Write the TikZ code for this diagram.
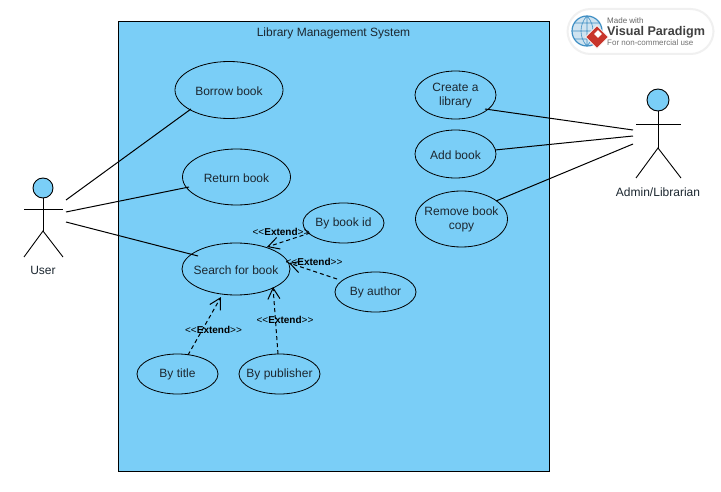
\documentclass[tikz,border=0pt]{standalone}
\usepackage{fontspec}
\setmainfont{Liberation Sans}
\usetikzlibrary{shapes.geometric,arrows.meta}
\definecolor{sysblue}{HTML}{7ACEF7}
\definecolor{txt}{HTML}{1C2730}
\definecolor{globe}{HTML}{3F8FC4}
\definecolor{vpred}{HTML}{C8352B}
\tikzset{
  uc/.style={ellipse,draw=black,line width=.8pt,inner sep=0pt,outer sep=0pt},
  narrowuc/.style={uc,minimum width=81pt,minimum height=40pt},
  lab/.style={font=\fontsize{12}{14}\selectfont,text=txt,align=center,inner sep=0pt,yshift=-.8pt},
  lowlab/.style={lab,yshift=-.6pt},
  assoc/.style={draw=black,line width=1pt},
  ext/.style={draw=black,line width=1pt,dash pattern=on 4pt off 3pt,-{Straight Barb[length=11pt,width=12pt,line width=1pt]}},
  extlab/.style={font=\fontsize{10}{12}\selectfont,text=black,inner sep=0pt},
  actor/.style={draw=black,line width=.9pt},
  head/.style={circle,draw=black,fill=sysblue,line width=.9pt,inner sep=0pt,outer sep=0pt},
  system/.style={draw=black,fill=sysblue,line width=.8pt,inner sep=0pt,outer sep=0pt}
}
\newcommand{\extlabel}{<{}<\textbf{Extend}>{}>}
\begin{document}
\begin{tikzpicture}[x=1pt,y=-1pt]
\useasboundingbox (0,0) rectangle (721,492);
\fill[white] (0,0) rectangle (721,492);

% system
\node[system,minimum width=431pt,minimum height=450pt] (sys) at (333.5,246) {};
\node[lab] (systitle) at (333.5,33) {Library Management System};

% use cases
\node[uc,minimum width=108pt,minimum height=57pt,label={[lab]center:Borrow book}] (borrow) at (229,90) {};
\node[uc,minimum width=108pt,minimum height=56pt,label={[lab]center:Return book}] (return) at (236.5,177) {};
\node[uc,minimum width=108pt,minimum height=52pt,label={[lab]center:Search for book}] (search) at (236,269) {};
\node[narrowuc,label={[lab]center:By book id}] (bookid) at (343.5,223) {};
\node[narrowuc,label={[lab]center:By author}] (author) at (375.5,292) {};
\node[narrowuc,label={[lab]center:By title}] (title) at (177.5,374) {};
\node[narrowuc,label={[lab]center:By publisher}] (publisher) at (279.5,374) {};
\node[uc,minimum width=81pt,minimum height=48pt,label={[lab]center:Create a\\library}] (create) at (455.5,95) {};
\node[uc,minimum width=81pt,minimum height=48pt,label={[lab]center:Add book}] (add) at (455.5,154) {};
\node[uc,minimum width=92pt,minimum height=56pt,label={[lab]center:Remove book\\copy}] (remove) at (461.5,219) {};

% user actor
\node[head,minimum size=20pt] (userhead) at (43,188) {};
\coordinate (userhip) at (43,231);
\coordinate (userarml) at (24,209);
\coordinate (userarmr) at (63,209);
\coordinate (userlegl) at (24,257);
\coordinate (userlegr) at (63,257);
\draw[actor] (userhead.south) -- (userhip);
\draw[actor] (userarml) -- (userarmr);
\draw[actor] (userlegl) -- (userhip) -- (userlegr);
\node[lab] (userlab) at (43,270) {User};

% admin actor
\node[head,minimum size=22pt] (adminhead) at (658,100) {};
\coordinate (adminhip) at (658,148);
\coordinate (adminarml) at (636,124);
\coordinate (adminarmr) at (681,124);
\coordinate (adminlegl) at (636,178);
\coordinate (adminlegr) at (681,178);
\draw[actor] (adminhead.south) -- (adminhip);
\draw[actor] (adminarml) -- (adminarmr);
\draw[actor] (adminlegl) -- (adminhip) -- (adminlegr);
\node[lab] (adminlab) at (658,191.5) {Admin/Librarian};

% associations
\coordinate (u1) at (66,200);
\coordinate (u2) at (66,212);
\coordinate (u3) at (66,222);
\coordinate (a1) at (633,130);
\coordinate (a2) at (633,136);
\coordinate (a3) at (633,144);
\coordinate (borrowend) at (191,109);
\coordinate (returnend) at (189,187);
\coordinate (searchend) at (198,256);
\coordinate (createend) at (485,109);
\coordinate (addend) at (495,150);
\coordinate (removeend) at (496,201);
\draw[assoc] (u1) -- (borrowend);
\draw[assoc] (u2) -- (returnend);
\draw[assoc] (u3) -- (searchend);
\draw[assoc] (a1) -- (createend);
\draw[assoc] (a2) -- (addend);
\draw[assoc] (a3) -- (removeend);

% extends
\coordinate (idstart) at (310,233);
\coordinate (idtip) at (267,247);
\coordinate (authstart) at (337,279);
\coordinate (authtip) at (289,263);
\coordinate (titlestart) at (188,355);
\coordinate (titletip) at (221,297);
\coordinate (pubstart) at (278,354);
\coordinate (pubtip) at (273,287);
\draw[ext] (idstart) -- (idtip);
\draw[ext] (authstart) -- (authtip);
\draw[ext] (titlestart) -- (titletip);
\draw[ext] (pubstart) -- (pubtip);
\node[extlab] (e1) at (281,232) {\extlabel};
\node[extlab] (e2) at (314,262) {\extlabel};
\node[extlab] (e3) at (213.5,330) {\extlabel};
\node[extlab] (e4) at (285,320) {\extlabel};

% watermark logo
\node[rounded corners=23pt,fill=white,draw=black!6,line width=2pt,minimum width=146pt,minimum height=45pt,inner sep=0pt] (logo) at (640.5,31.5) {};
\node[circle,draw=globe,line width=1.2pt,fill=globe!25,minimum size=30pt,inner sep=0pt] (vpglobe) at (587,31) {};
\draw[globe,line width=.6pt] (572,31) -- (602,31) (587,16) -- (587,46) (587,16) .. controls (579,24) and (579,38) .. (587,46) (587,16) .. controls (595,24) and (595,38) .. (587,46) (574,23) -- (600,23) (574,39) -- (600,39);
\node[diamond,fill=vpred,draw=white,line width=.6pt,minimum size=23pt,inner sep=0pt] (vpmark) at (597,37) {};
\node[diamond,fill=white,minimum size=8pt,inner sep=0pt] (vpmarkin) at (598,34) {};
\node[anchor=base west,inner sep=0pt,font=\fontsize{8}{9}\selectfont,text=black!60] (vp1) at (607,23.5) {Made with};
\node[anchor=base west,inner sep=0pt,font=\bfseries\fontsize{12.6}{14}\selectfont,text=black!75] (vp2) at (607,36) {Visual Paradigm};
\node[anchor=base west,inner sep=0pt,font=\fontsize{8}{9}\selectfont,text=black!55] (vp3) at (607,46) {For non-commercial use};
\end{tikzpicture}
\end{document}
